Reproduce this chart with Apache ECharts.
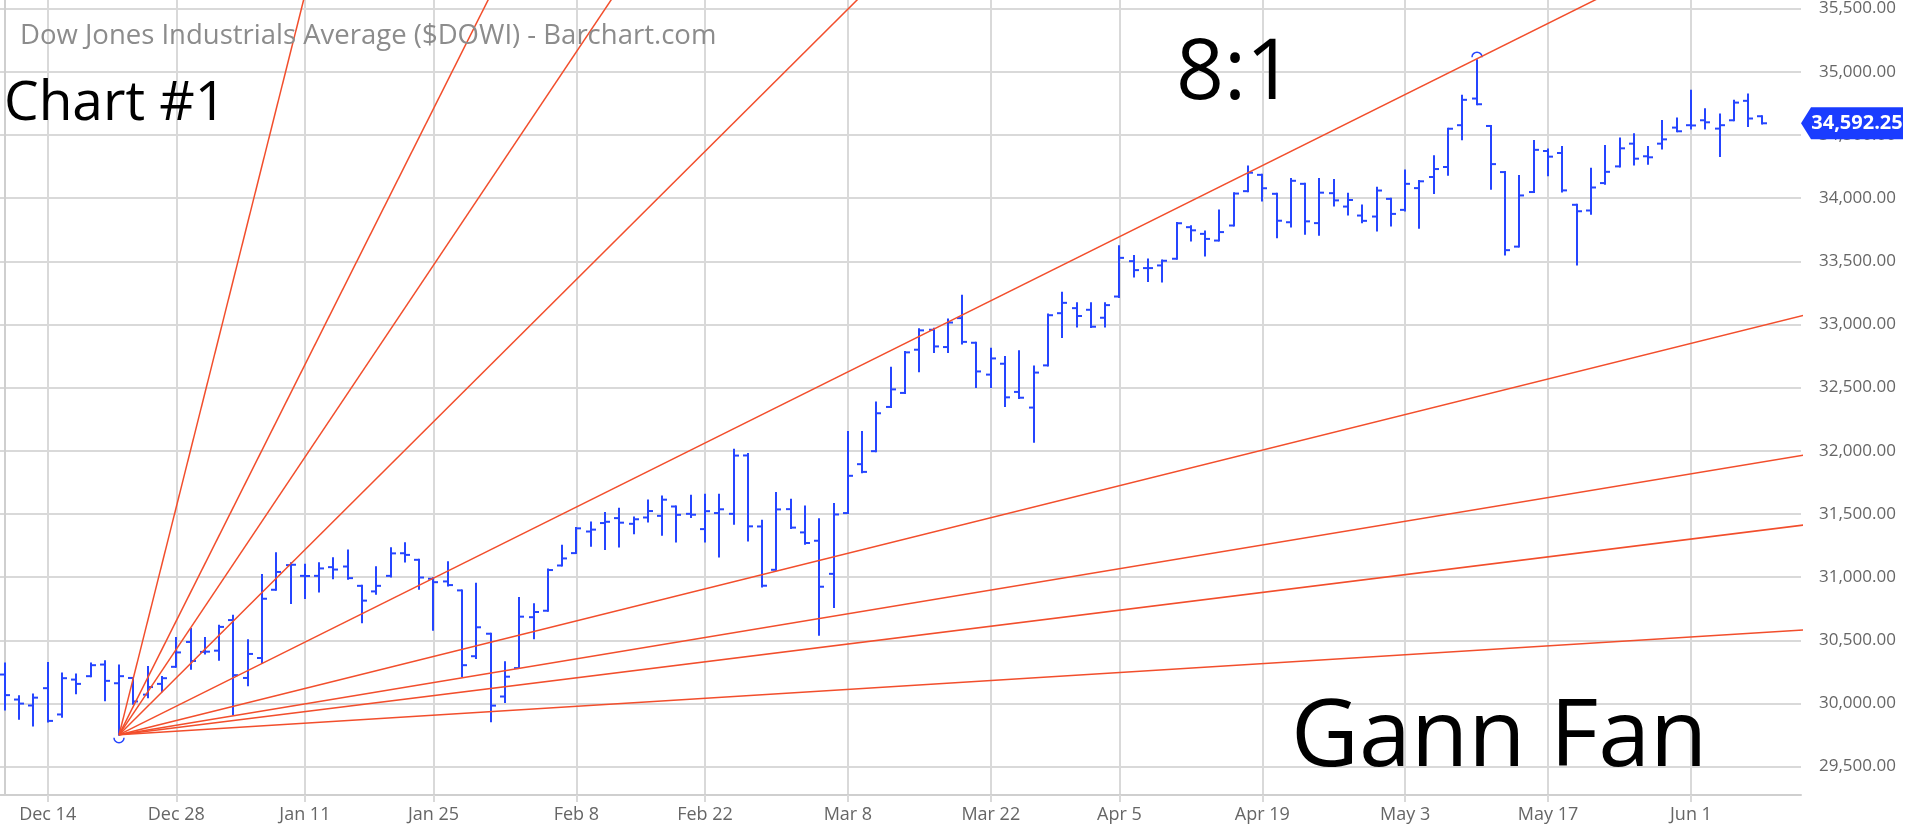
<!DOCTYPE html>
<html><head><meta charset="utf-8">
<script src="https://cdn.jsdelivr.net/npm/echarts@6/dist/echarts.min.js"></script>
<style>html,body{margin:0;padding:0;background:#fff;overflow:hidden}#c{width:1905px;height:833px}</style>
</head><body><div id="c"></div>
<script>
// ---- data (trading-day slots, 0 = Dec 9 2020) ----
const xLabelIdx = [3, 12, 21, 30, 40, 49, 59, 69, 78, 88, 98, 108, 118];
const xLabelText = ['Dec 14','Dec 28','Jan 11','Jan 25','Feb 8','Feb 22','Mar 8','Mar 22','Apr 5','Apr 19','May 3','May 17','Jun 1'];
const yTicks = [29500, 30000, 30500, 31000, 31500, 32000, 32500, 33000, 33500, 34000, 34500, 35000, 35500];

const opens = [30229,30031,29984,30121,29913,30189,30216,30308,30160,30202,30070,30155,30290,30487,30408,30418,
30660,30202,30360,30900,31095,31010,31010,31079,31084,30931,30887,31010,31189,31137,30987,30966,30895,30374,30552,
30055,30280,30683,30734,31092,31190,31361,31428,31467,31422,31472,31485,31559,31501,31380,31507,31501,31963,31401,
31058,31538,31354,31288,31026,31507,31894,31997,32347,32458,32800,32958,32821,33050,32855,32603,32689,32466,32342,32676,33089,33129,33116,
33053,33221,33501,33446,33467,33520,33770,33717,33664,33783,34055,34184,34034,33809,34113,33802,34039,33933,33862,33854,33994,
33907,34079,34167,34246,34577,34788,34571,34206,33616,34048,34373,34357,33947,33902,34119,34251,34431,34331,34431,34558,
34577,34616,34550,34616,34770,34648];
const highs = [30316,30058,30071,30321,30237,30229,30316,30334,30300,30202,30289,30210,30518,30589,30518,30616,
30695,30500,31016,31189,31110,31097,31110,31150,31210,30931,31079,31229,31268,31137,30992,31118,30895,30947,30552,
30327,30834,30786,31060,31248,31388,31433,31507,31541,31472,31607,31639,31559,31644,31652,31652,32008,31974,31446,
31665,31612,31559,31459,31578,32148,32148,32382,32658,32782,32961,32966,33039,33227,32855,32808,32742,32787,32668,33079,33250,33168,33168,
33168,33618,33541,33514,33506,33802,33778,33736,33902,34039,34250,34184,34034,34152,34113,34152,34144,34034,33941,34081,33994,
34218,34135,34331,34548,34810,35092,34571,34206,34175,34452,34384,34405,33947,34233,34413,34471,34505,34405,34611,34630,
34849,34704,34661,34770,34820,34648];
const lows = [29952,29879,29826,29858,29894,30081,30216,30026,29753,29997,30050,30097,30290,30274,30395,30347,
29913,30145,30321,30900,30796,30834,30887,30992,30987,30642,30868,31005,31124,30908,30584,30934,30216,30360,29860,
30011,30280,30517,30734,31092,31190,31248,31222,31243,31348,31441,31335,31282,31475,31282,31164,31422,31290,30926,
31058,31388,31264,30544,30763,31507,31831,31997,32347,32458,32629,32782,32782,32850,32505,32505,32355,32418,32071,32676,32900,32984,32979,
32984,33218,33380,33343,33340,33520,33664,33546,33664,33783,34055,33981,33691,33775,33717,33709,33941,33870,33809,33744,33783,
33902,33765,34040,34185,34466,34743,34074,33553,33616,34048,34180,34053,33474,33876,34114,34251,34265,34272,34392,34529,
34550,34550,34333,34616,34571,34590];
const closes = [30066,29999,30046,29862,30200,30155,30303,30179,30216,30016,30130,30200,30404,30336,30410,30606,
30224,30392,30829,31041,31098,31009,31069,31060,30992,30814,30931,31188,31176,30997,30960,30937,30303,30603,29983,
30212,30687,30724,31056,31148,31386,31376,31438,31431,31458,31523,31613,31493,31494,31522,31537,31962,31402,30932,
31536,31392,31270,30924,31496,31802,31833,32297,32486,32779,32953,32826,33015,32862,32628,32731,32423,32420,32619,33073,33171,33067,32982,
33153,33527,33430,33446,33504,33801,33745,33677,33731,34036,34201,34078,33821,34137,33816,34043,33982,33985,33820,34060,33875,
34113,34133,34230,34549,34778,34743,34269,33588,34021,34382,34328,34061,33896,34084,34208,34394,34312,34323,34465,34529,
34575,34600,34577,34756,34630,34592.25];
const lastPrice = 34592.25;
const markHighIdx = 103, markLowIdx = 8;
// Gann fan: origin (Dec 21 low) and 1x1 unit in points per trading day
const fanOriginIdx = 8, fanOriginPrice = 29753, fanUnit = 56.3;
const fanRatios = [8, 4, 3, 2, 1, 1/2, 1/3, 1/4, 1/8];

// ---- view settings ----
const X_MIN = -0.336, X_MAX = 125.70, Y_MIN = 29275.5, Y_MAX = 35568;
const BAR = '#2545ff', FAN = '#f24e2c', GRID = '#d9d9d9', FONT = '"Open Sans", "Noto Sans", sans-serif';

function fmt(v){ const s = Math.round(v*100)/100; const p = s.toFixed(2).split('.'); return p[0].replace(/\B(?=(\d{3})+(?!\d))/g, ',') + '.' + p[1]; }

const ohlc = opens.map((o, i) => [i, o, highs[i], lows[i], closes[i]]);

function renderItem(params, api){
  const i = api.value(0);
  const pO = api.coord([i, api.value(1)]);
  const pH = api.coord([i, api.value(2)]);
  const pL = api.coord([i, api.value(3)]);
  const pC = api.coord([i, api.value(4)]);
  const x = Math.round(pO[0]);
  const st = {stroke: BAR, lineWidth: 2};
  const ch = [
    {type:'line', shape:{x1:x, y1:pH[1]-1, x2:x, y2:pL[1]+1}, style: st},
    {type:'line', shape:{x1:x-5, y1:pO[1], x2:x, y2:pO[1]}, style: st},
    {type:'line', shape:{x1:x, y1:pC[1], x2:x+5, y2:pC[1]}, style: st}
  ];
  if (i === markHighIdx) ch.push({type:'arc', shape:{cx:x, cy:pH[1]-3, r:5, startAngle:Math.PI, endAngle:2*Math.PI}, style:{stroke:BAR, fill:null, lineWidth:1.5}});
  if (i === markLowIdx) ch.push({type:'arc', shape:{cx:x, cy:pL[1]+3, r:5, startAngle:0, endAngle:Math.PI}, style:{stroke:BAR, fill:null, lineWidth:1.5}});
  return {type:'group', children: ch};
}

const fanSeries = fanRatios.map(r => ({
  type: 'line', z: 3, silent: true, symbol: 'none', clip: true, animation: false,
  lineStyle: {color: FAN, width: 1.5},
  data: [[fanOriginIdx, fanOriginPrice], [300, fanOriginPrice + r * fanUnit * (300 - fanOriginIdx)]]
}));

const chart = echarts.init(document.getElementById('c'));
chart.setOption({
  animation: false,
  backgroundColor: '#ffffff',
  textStyle: {fontFamily: FONT},
  grid: {left: 0, right: 104, top: 0, bottom: 38, containLabel: false},
  title: [
    {text: 'Dow Jones Industrials Average ($DOWI) - Barchart.com', left: 20, top: 21, padding: 0,
     textStyle: {fontSize: 27.5, fontWeight: 'normal', color: '#8c8c8c', fontFamily: FONT, lineHeight: 30}},
    {text: 'Chart #1', left: 4, top: 73, padding: 0,
     textStyle: {fontSize: 55, fontWeight: 'normal', color: '#000', fontFamily: FONT, lineHeight: 62}},
    {text: '8:1', left: 1176, top: 31, padding: 0,
     textStyle: {fontSize: 84, fontWeight: 'normal', color: '#000', fontFamily: FONT, lineHeight: 88}},
    {text: 'Gann Fan', left: 1291, top: 689, padding: 0,
     textStyle: {fontSize: 93.5, fontWeight: 'normal', color: '#000', fontFamily: FONT, lineHeight: 100}}
  ],
  xAxis: {
    type: 'value', min: X_MIN, max: X_MAX,
    axisLine: {show: true, onZero: false, lineStyle: {color: '#cfcfcf', width: 2}},
    axisTick: {show: true, length: 7, customValues: xLabelIdx, lineStyle: {color: GRID, width: 2}},
    axisLabel: {customValues: xLabelIdx, margin: 11, fontSize: 18, color: '#666', fontFamily: FONT,
      formatter: v => { const k = xLabelIdx.indexOf(Math.round(v)); return k >= 0 ? xLabelText[k] : ''; }},
    splitLine: {show: true, lineStyle: {color: GRID, width: 2}}
  },
  yAxis: {
    type: 'value', position: 'right', min: Y_MIN, max: Y_MAX, scale: true,
    axisLine: {show: true, lineStyle: {color: '#cfcfcf', width: 2}},
    axisTick: {show: false, customValues: yTicks},
    axisLabel: {customValues: yTicks, margin: 18, fontSize: 17, color: '#666', fontFamily: FONT, formatter: v => fmt(v)},
    splitLine: {show: true, lineStyle: {color: GRID, width: 2}}
  },
  series: [
    {
      type: 'custom', z: 2, renderItem: renderItem, data: ohlc, encode: {x: 0, y: [1, 2, 3, 4]}, silent: true,
      markPoint: {
        silent: true, animation: false,
        symbol: 'path://M0 16 L10 0 L102 0 L102 32 L10 32 Z', symbolSize: [102, 32], symbolKeepAspect: false,
        symbolOffset: [51, 0],
        itemStyle: {color: '#1a3cff'},
        label: {show: true, position: 'inside', offset: [5, 0], color: '#fff', fontWeight: 'bold', fontSize: 20, fontFamily: FONT,
          formatter: () => fmt(lastPrice)},
        data: [{coord: [X_MAX, lastPrice]}]
      }
    }
  ].concat(fanSeries)
});
</script></body></html>
